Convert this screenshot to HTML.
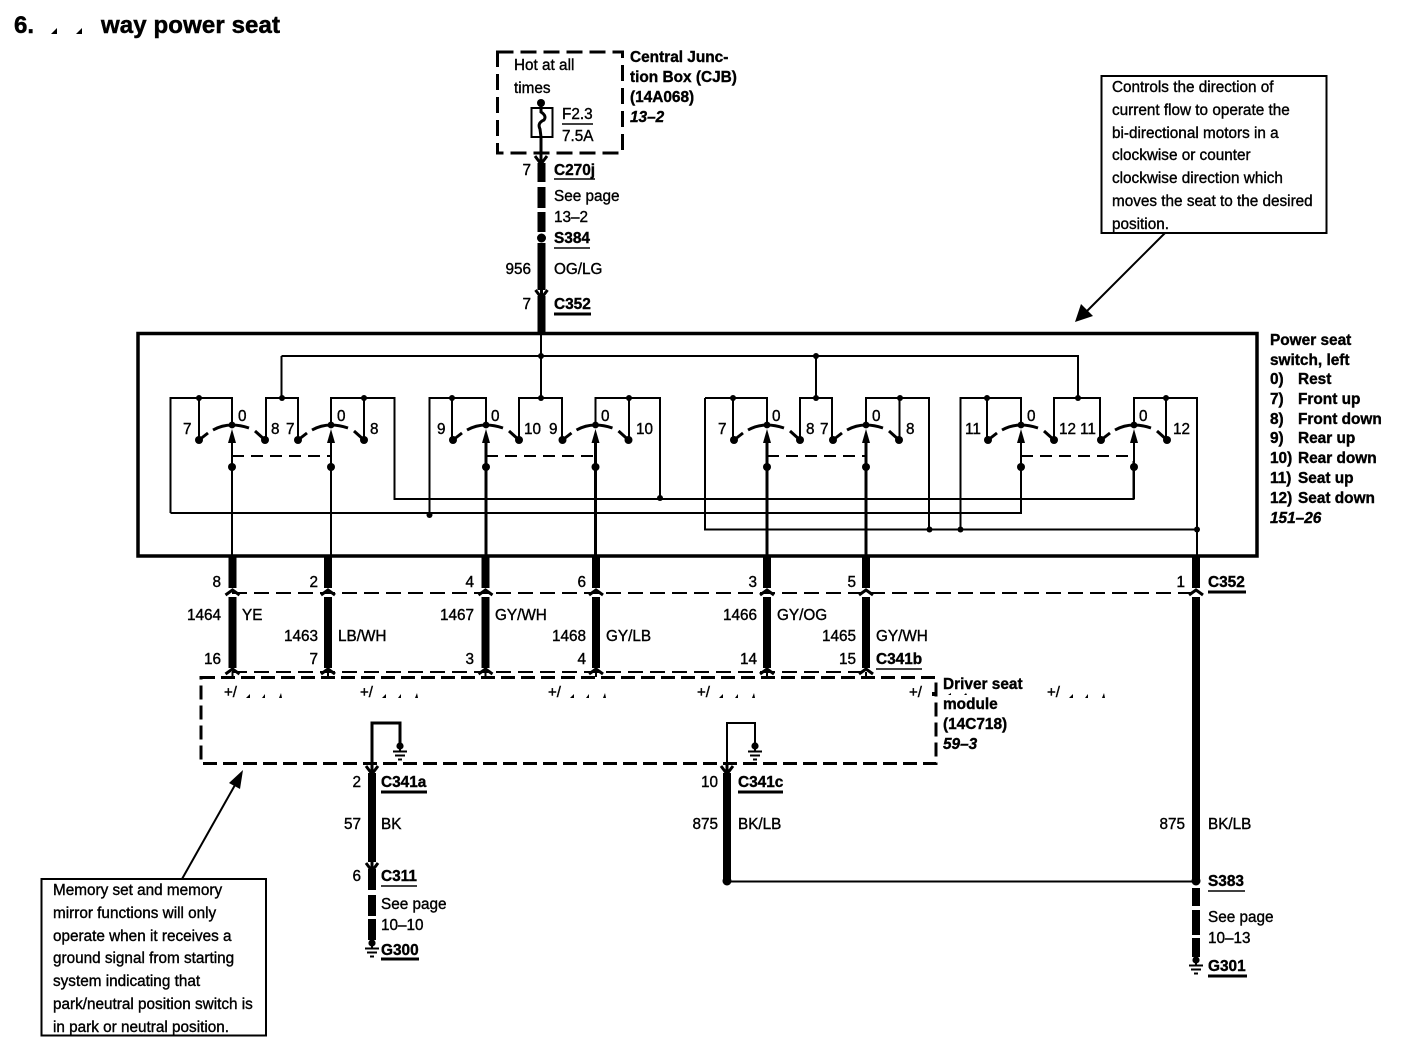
<!DOCTYPE html>
<html><head><meta charset="utf-8"><style>
html,body{margin:0;padding:0;background:#fff}
svg{display:block}
text{font-family:"Liberation Sans",sans-serif;font-size:15.3px;fill:#000;stroke:#000;stroke-width:.38}
.b{font-weight:bold;font-size:15.4px}.i{font-weight:bold;font-style:italic;font-size:15.4px}
.r{text-anchor:end}
.t{font-size:24px;font-weight:bold;stroke-width:.5}
.w{stroke:#000;stroke-width:8;fill:none}
.l{stroke:#000;stroke-width:2;fill:none}
.m{stroke:#000;stroke-width:3;fill:none}
.d{stroke:#000;stroke-width:2;stroke-dasharray:15 7;fill:none}
.u{stroke:#000;stroke-width:1.5}
</style></head><body>
<svg width="1408" height="1056" viewBox="0 0 1408 1056" xmlns="http://www.w3.org/2000/svg">
<defs>
<g id="sw">
<path class="m" d="M-33 15L-24 8M-19 5Q-10 0 0 0Q8 0 17 3M23 6L33 15"/>
<circle cx="-33" cy="15" r="4"/><circle cx="33" cy="15" r="4"/>
<circle cx="0" cy="0" r="3.4"/><polygon points="0,4 -4,18 4,18"/>
<circle cx="0" cy="42" r="4"/>
</g>
<path id="up" class="m" d="M-7 3L0 -2L7 3"/>
<path id="dn" class="m" d="M-6 -5L0 3L6 -5M0 -7V3"/>
<g id="gnd"><circle cx="0" cy="0" r="3.6"/><path class="l" d="M0 0V5M-7 5.5H7M-5 9.5H5M-2 13.5H2"/></g>
<g id="pm">
<text x="0" y="0" style="font-size:15px">+/</text>
<polygon points="22,1 26,-3 26,1"/><polygon points="38,1 41,-3 41,1"/><polygon points="55,1 57,-4 58,1"/>
</g>
</defs>

<text class="t" x="14" y="33">6.</text>
<polygon points="51,34 57,28 57,34"/><polygon points="76,34 82,28 82,34"/>
<text class="t" x="101" y="33" textLength="179">way power seat</text>

<!-- CJB -->
<rect x="497.5" y="52" width="125" height="101" fill="none" stroke="#000" stroke-width="3" stroke-dasharray="16 7"/>
<text x="514" y="70">Hot at all</text><text x="514" y="93">times</text>
<circle cx="541" cy="103" r="4"/>
<rect class="l" x="531.5" y="108" width="21" height="29"/>
<path class="m" d="M541 106V112Q547 116 544 120Q537 123 540 129L541 137"/>
<text x="562" y="119">F2.3</text><line class="u" x1="562" y1="124" x2="593" y2="124"/><text x="562" y="141">7.5A</text>
<path class="m" d="M541 137V160"/><use href="#dn" x="541" y="161"/>
<text class="b" x="630" y="62">Central Junc-</text><text class="b" x="630" y="82">tion Box (CJB)</text><text class="b" x="630" y="102">(14A068)</text><text class="i" x="630" y="122">13–2</text>
<path class="w" d="M541.5 163V182M541.5 187V208M541.5 212V232M541.5 243V290M541.5 296V333"/>
<circle cx="541.5" cy="238" r="4.5"/>
<use href="#dn" x="541.5" y="295"/>
<text class="r" x="531" y="175">7</text><text class="b" x="554" y="175">C270j</text><line class="u" x1="554" y1="179" x2="595" y2="179"/>
<text x="554" y="201">See page</text><text x="554" y="222">13–2</text>
<text class="b" x="554" y="243">S384</text><line class="u" x1="554" y1="248" x2="590" y2="248"/>
<text class="r" x="531" y="274">956</text><text x="554" y="274">OG/LG</text>
<text class="r" x="531" y="309">7</text><text class="b" x="554" y="309">C352</text><line class="m" x1="554" y1="314" x2="591" y2="314"/>

<!-- Callout 1 -->
<rect x="1101.5" y="76" width="225" height="157" fill="#fff" stroke="#000" stroke-width="2"/>
<text x="1112" y="92">Controls the direction of</text>
<text x="1112" y="115">current flow to operate the</text>
<text x="1112" y="138">bi-directional motors in a</text>
<text x="1112" y="160">clockwise or counter</text>
<text x="1112" y="183">clockwise direction which</text>
<text x="1112" y="206">moves the seat to the desired</text>
<text x="1112" y="229">position.</text>
<line class="l" x1="1165" y1="233" x2="1086" y2="312"/>
<polygon points="1075,322 1081,304 1093,316"/>

<!-- Switch box -->
<rect x="138" y="333.5" width="1119" height="222.5" fill="none" stroke="#000" stroke-width="3.5"/>
<path class="l" d="M541 333V398M281.5 356H1078V398M281.5 356V398M816 356V398"/>
<circle cx="541" cy="356" r="3"/><circle cx="816" cy="356" r="3"/>

<path class="l" d="M170.5 513V398H232V425M199 398V440M266 440V398H298V440M331 425V398H394.5V499H1133.5V461M364 398V440"/>
<path class="l" d="M170.5 513H1021V461"/>
<path class="l" d="M429.5 514V398H486V425M452 398V440M519 440V398H562V440M595.5 425V398H660V499M629 398V440"/>
<path class="l" d="M705 398H767V425M705 398V529.5H1197M733 398V440M800 440V398H832V440M866 425V398H929V529.5M899.5 398V440"/>
<path class="l" d="M960.5 529.5V398H1021V425M987 398V440M1054 440V398H1100V440M1134 425V398H1197V556M1166 398V440"/>
<g fill="#000">
<circle cx="199" cy="398" r="3"/><circle cx="282" cy="398" r="3"/><circle cx="364" cy="398" r="3"/>
<circle cx="452" cy="398" r="3"/><circle cx="541" cy="398" r="3"/><circle cx="629" cy="398" r="3"/>
<circle cx="733" cy="398" r="3"/><circle cx="816" cy="398" r="3"/><circle cx="900" cy="398" r="3"/>
<circle cx="987" cy="398" r="3"/><circle cx="1078" cy="398" r="3"/><circle cx="1166" cy="398" r="3"/>
<circle cx="660" cy="498" r="3"/><circle cx="429.5" cy="515" r="3"/>
<circle cx="929.5" cy="529.5" r="3"/><circle cx="960.5" cy="529.5" r="3"/><circle cx="1197" cy="529.5" r="3"/>
</g>
<use href="#sw" x="232" y="425"/><use href="#sw" x="331" y="425"/><use href="#sw" x="486" y="425"/><use href="#sw" x="595.5" y="425"/>
<use href="#sw" x="767" y="425"/><use href="#sw" x="866" y="425"/><use href="#sw" x="1021" y="425"/><use href="#sw" x="1134" y="425"/>
<path class="l" d="M232 440V556M331 440V556"/>
<path class="m" d="M486 440V556M595.5 440V556M767 440V556M866 440V556"/>
<path class="l" d="M1021 440V499M1134 440V499"/>
<path class="l" stroke-dasharray="12 7" d="M232 456H331M486 456H595M767 456H866M1021 456H1134"/>

<g>
<text x="183" y="434">7</text><text x="238" y="421">0</text><text x="271" y="434">8</text><text x="286" y="434">7</text><text x="337" y="421">0</text><text x="370" y="434">8</text>
<text x="437" y="434">9</text><text x="491" y="421">0</text><text x="524" y="434">10</text><text x="549" y="434">9</text><text x="601" y="421">0</text><text x="636" y="434">10</text>
<text x="718" y="434">7</text><text x="772" y="421">0</text><text x="806" y="434">8</text><text x="820" y="434">7</text><text x="872" y="421">0</text><text x="906" y="434">8</text>
<text x="965" y="434">11</text><text x="1027" y="421">0</text><text x="1059" y="434">12</text><text x="1080" y="434">11</text><text x="1139" y="421">0</text><text x="1173" y="434">12</text>
</g>

<!-- Legend -->
<text class="b" x="1270" y="345">Power seat</text><text class="b" x="1270" y="365">switch, left</text>
<text class="b" x="1270" y="384">0)</text><text class="b" x="1298" y="384">Rest</text>
<text class="b" x="1270" y="404">7)</text><text class="b" x="1298" y="404">Front up</text>
<text class="b" x="1270" y="424">8)</text><text class="b" x="1298" y="424">Front down</text>
<text class="b" x="1270" y="443">9)</text><text class="b" x="1298" y="443">Rear up</text>
<text class="b" x="1270" y="463">10)</text><text class="b" x="1298" y="463">Rear down</text>
<text class="b" x="1270" y="483">11)</text><text class="b" x="1298" y="483">Seat up</text>
<text class="b" x="1270" y="503">12)</text><text class="b" x="1298" y="503">Seat down</text>
<text class="i" x="1270" y="523">151–26</text>

<!-- Harness -->
<path class="w" d="M232.5 556V588M328 556V588M485.5 556V588M596 556V588M767 556V588M866 556V588M1196 556V588"/>
<path class="w" d="M232.5 597V668M328 597V668M485.5 597V668M596 597V668M767 597V668M866 597V668"/>
<path class="w" d="M1196 597V880M1196 888V906M1196 910V935M1196 938V957"/>
<path class="d" d="M232 593H1196M232 672H866"/>
<g>
<use href="#up" x="232.5" y="592"/><use href="#up" x="328" y="592"/><use href="#up" x="485.5" y="592"/><use href="#up" x="596" y="592"/><use href="#up" x="767" y="592"/><use href="#up" x="866" y="592"/><use href="#up" x="1196" y="592"/>
<use href="#up" x="232.5" y="671"/><use href="#up" x="328" y="671"/><use href="#up" x="485.5" y="671"/><use href="#up" x="596" y="671"/><use href="#up" x="767" y="671"/><use href="#up" x="866" y="671"/>
</g>
<path class="l" d="M232.5 672V677M328 672V677M485.5 672V677M596 672V677M767 672V677M866 672V677"/>

<text class="r" x="221" y="587">8</text><text class="r" x="318" y="587">2</text><text class="r" x="474" y="587">4</text><text class="r" x="586" y="587">6</text><text class="r" x="757" y="587">3</text><text class="r" x="856" y="587">5</text><text class="r" x="1185" y="587">1</text>
<text class="b" x="1208" y="587">C352</text><line class="m" x1="1208" y1="592" x2="1246" y2="592"/>
<text class="r" x="221" y="620">1464</text><text x="242" y="620">YE</text>
<text class="r" x="318" y="641">1463</text><text x="338" y="641">LB/WH</text>
<text class="r" x="474" y="620">1467</text><text x="495" y="620">GY/WH</text>
<text class="r" x="586" y="641">1468</text><text x="606" y="641">GY/LB</text>
<text class="r" x="757" y="620">1466</text><text x="777" y="620">GY/OG</text>
<text class="r" x="856" y="641">1465</text><text x="876" y="641">GY/WH</text>
<text class="r" x="221" y="664">16</text><text class="r" x="318" y="664">7</text><text class="r" x="474" y="664">3</text><text class="r" x="586" y="664">4</text><text class="r" x="757" y="664">14</text><text class="r" x="856" y="664">15</text>
<text class="b" x="876" y="664">C341b</text><line class="u" x1="876" y1="669" x2="922" y2="669"/>

<!-- Module -->
<rect x="201" y="677.5" width="735" height="86" fill="none" stroke="#000" stroke-width="3" stroke-dasharray="14 6"/>
<use href="#pm" x="224" y="697"/><use href="#pm" x="360" y="697"/><use href="#pm" x="548" y="697"/><use href="#pm" x="697" y="697"/><use href="#pm" x="1047" y="697"/>
<text x="909" y="697" style="font-size:15px">+/</text><rect x="932" y="692" width="3" height="4"/>
<polygon points="948,695 951,693 951,695"/><polygon points="964,695 966,693 967,695"/>
<text class="b" x="943" y="689">Driver seat</text><text class="b" x="943" y="709">module</text><text class="b" x="943" y="729">(14C718)</text><text class="i" x="943" y="749">59–3</text>
<path class="m" d="M400 745V723H372V768"/><use href="#gnd" x="400" y="746"/>
<path class="l" d="M755 745V723H727V768"/><use href="#gnd" x="755" y="746"/>

<!-- Bottom wires -->
<use href="#dn" x="372" y="771"/><use href="#dn" x="727" y="771"/>
<path class="w" d="M372 773V862M372 869V890M372 895V916M372 919V940"/>
<use href="#dn" x="372" y="868"/>
<use href="#gnd" x="372" y="943"/>
<text class="r" x="361" y="787">2</text><text class="b" x="381" y="787">C341a</text><line class="m" x1="381" y1="792" x2="427" y2="792"/>
<text class="r" x="361" y="829">57</text><text x="381" y="829">BK</text>
<text class="r" x="361" y="881">6</text><text class="b" x="381" y="881">C311</text><line class="u" x1="381" y1="886" x2="417" y2="886"/>
<text x="381" y="909">See page</text><text x="381" y="930">10–10</text>
<text class="b" x="381" y="955">G300</text><line class="m" x1="381" y1="959" x2="419" y2="959"/>

<path class="w" d="M727 773V880"/>
<circle cx="727" cy="881" r="4.5"/>
<line class="l" x1="727" y1="881.5" x2="1196" y2="881.5"/>
<circle cx="1196" cy="881" r="4.5"/>
<text class="r" x="718" y="787">10</text><text class="b" x="738" y="787">C341c</text><line class="m" x1="738" y1="792" x2="783" y2="792"/>
<text class="r" x="718" y="829">875</text><text x="738" y="829">BK/LB</text>

<text class="r" x="1185" y="829">875</text><text x="1208" y="829">BK/LB</text>
<text class="b" x="1208" y="886">S383</text><line class="u" x1="1208" y1="891" x2="1245" y2="891"/>
<text x="1208" y="922">See page</text><text x="1208" y="943">10–13</text>
<use href="#gnd" x="1196" y="960"/>
<text class="b" x="1208" y="971">G301</text><line class="m" x1="1208" y1="976" x2="1247" y2="976"/>

<!-- Callout 2 -->
<rect x="41.5" y="879" width="224.5" height="156.5" fill="#fff" stroke="#000" stroke-width="2"/>
<text x="53" y="895">Memory set and memory</text>
<text x="53" y="918">mirror functions will only</text>
<text x="53" y="941">operate when it receives a</text>
<text x="53" y="963">ground signal from starting</text>
<text x="53" y="986">system indicating that</text>
<text x="53" y="1009">park/neutral position switch is</text>
<text x="53" y="1032">in park or neutral position.</text>
<line class="l" x1="182" y1="879" x2="235" y2="785"/>
<polygon points="243,770 240,789 229,783"/>
</svg>
</body></html>
